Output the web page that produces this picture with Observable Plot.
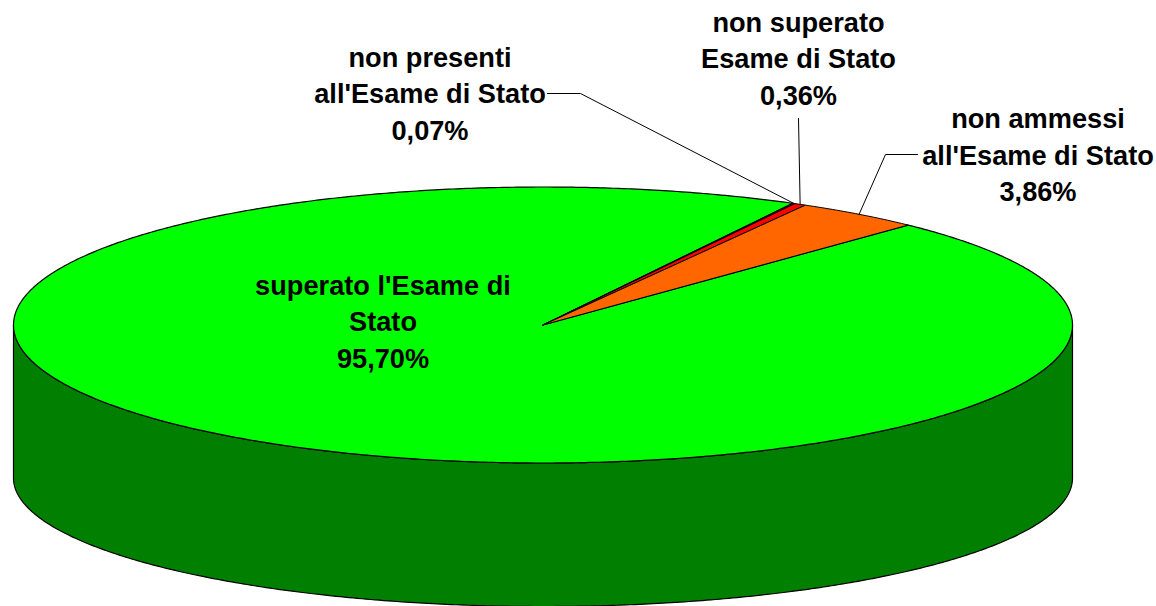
<!DOCTYPE html>
<html><head><meta charset="utf-8">
<script src="https://cdn.jsdelivr.net/npm/d3@7"></script>
<script src="https://cdn.jsdelivr.net/npm/@observablehq/plot@0.6"></script>
<style>html,body{margin:0;padding:0;background:#fff;overflow:hidden}svg{display:block}</style>
</head><body><div id="chart"></div>
<script>
const categories = ["superato l'Esame di\nStato", "non presenti\nall'Esame di Stato", "non superato\nEsame di Stato", "non ammessi\nall'Esame di Stato"];
const shares = [95.70, 0.07, 0.36, 3.86];
const colors = ["#00ff00", "#ff0000", "#ff0000", "#ff6600"];

// layout of the tilted disc, in pixels
const W = 1156, H = 606;
const disc = {cx: 542.5, cy: 324.5, rx: 529.5, ry: 138, baseCy: 477.5, baseRy: 128.5, startDeg: 43.6};
const rad = Math.PI / 180;
const total = d3.sum(shares);
const pt = (deg, cy = disc.cy, ry = disc.ry) => ({x: disc.cx + disc.rx * Math.sin(deg * rad), y: cy - ry * Math.cos(deg * rad)});
const arc = (a0, a1, cy, ry) => {
  const n = Math.max(2, Math.ceil(Math.abs(a1 - a0) * 2));
  return d3.range(n + 1).map(i => pt(a0 + (a1 - a0) * i / n, cy, ry));
};

let a = disc.startDeg;
const slices = shares.map((v, i) => {
  const a0 = a, a1 = a + v / total * 360;
  a = a1;
  return {i, a0, a1, mid: (a0 + a1) / 2, color: colors[i]};
});

const wall = [...arc(90, 270), ...arc(270, 90, disc.baseCy, disc.baseRy)];
wall.push(wall[0]);
const wallRows = wall.map(p => ({...p, k: "wall"}));
const topRows = slices.flatMap(s => {
  const c = {x: disc.cx, y: disc.cy};
  return [c, ...arc(s.a0, s.a1), c].map(p => ({...p, k: s.i, color: s.color}));
});

// label layout (centre of each text block, leader elbow points)
const labelPos = [
  {x: 382.5, y: 319},
  {x: 429.5, y: 91, leader: [[547, 93], [580, 93]]},
  {x: 798, y: 56, leader: [[798, 118]]},
  {x: 1037.5, y: 152.5, leader: [[917, 154], [885, 154]]}
];
const fmt = v => v.toFixed(2).replace(".", ",") + "%";
const labels = categories.map((c, i) => ({x: labelPos[i].x, y: labelPos[i].y, text: c + "\n" + fmt(shares[i])}));
const leaders = labelPos.flatMap((l, i) => l.leader
  ? [...l.leader.map(([x, y]) => ({x, y, k: i})), {...pt(slices[i].mid), k: i}]
  : []);

const chart = Plot.plot({
  width: W, height: H,
  margin: 0,
  x: {domain: [0, W], range: [0, W], axis: null},
  y: {domain: [0, H], range: [0, H], axis: null},
  style: {background: "#fff"},
  marks: [
    Plot.line(wallRows, {x: "x", y: "y", z: "k", fill: "#007f00", stroke: "#000", strokeWidth: 1.2, curve: "linear"}),
    Plot.line(topRows.filter(d => d.k === 0), {x: "x", y: "y", z: "k", fill: colors[0], stroke: "#000", strokeWidth: 1.2, curve: "linear"}),
    Plot.line(topRows.filter(d => d.k !== 0), {x: "x", y: "y", z: "k", fill: "color", stroke: "#000", strokeWidth: 1, curve: "linear"}),
    Plot.line(leaders, {x: "x", y: "y", z: "k", stroke: "#000", strokeWidth: 1, curve: "linear"}),
    Plot.text(labels, {x: "x", y: "y", text: "text", fill: "#000", fontSize: 27.2, fontWeight: "bold", fontFamily: "'Liberation Sans', Arial, sans-serif", lineHeight: 1.35, textAnchor: "middle", lineAnchor: "middle"})
  ]
});
document.getElementById("chart").append(chart);
</script></body></html>
